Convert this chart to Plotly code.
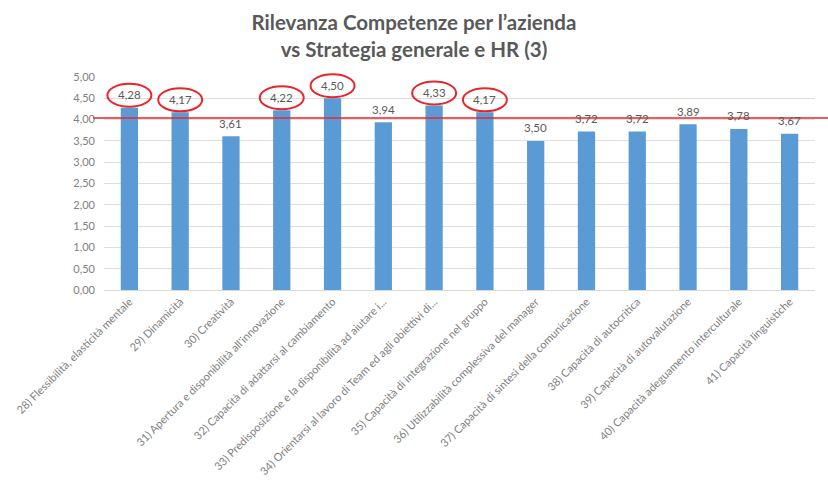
import plotly.graph_objects as go

categories = [
    "28) Flessibilità, elasticità mentale",
    "29) Dinamicità",
    "30) Creatività",
    "31) Apertura e disponibilità all'innovazione",
    "32) Capacità di adattarsi al cambiamento",
    "33) Predisposizione e la disponibilità ad aiutare i...",
    "34) Orientarsi al lavoro di Team ed agli obiettivi di...",
    "35) Capacità di integrazione nel gruppo",
    "36) Utilizzabilità complessiva del manager",
    "37) Capacità di sintesi della comunicazione",
    "38) Capacità di autocritica",
    "39) Capacità di autovalutazione",
    "40) Capacità adeguamento interculturale",
    "41) Capacità linguistiche",
]
values = [4.28, 4.17, 3.61, 4.22, 4.50, 3.94, 4.33, 4.17, 3.50, 3.72, 3.72, 3.89, 3.78, 3.67]
threshold = 4.04
y_ticks = [0, 0.5, 1, 1.5, 2, 2.5, 3, 3.5, 4, 4.5, 5]
y_max = 5

FONT = "Lato"

fig = go.Figure()
fig.add_trace(go.Bar(
    x=categories, y=values,
    marker=dict(color="#5b9bd5", line=dict(width=0)),
    width=0.34,
    cliponaxis=False,
))

annotations = []
for c, v in zip(categories, values):
    annotations.append(dict(x=c, y=v, xref="x", yref="y", text=f"{v:.2f}".replace(".", ","),
                            showarrow=False, yanchor="middle", yshift=13,
                            font=dict(size=11.5, color="#595959", family=FONT)))

shapes = []
# red reference line
shapes.append(dict(type="line", xref="paper", yref="y", x0=-0.0155, x1=1.02,
                   y0=threshold, y1=threshold, line=dict(color="#e8262a", width=1.5)))
# ellipses around labels above threshold
for i, v in enumerate(values):
    if v > threshold:
        shapes.append(dict(type="circle", xref="x", yref="paper",
                           xsizemode="pixel", ysizemode="pixel",
                           xanchor=i, yanchor=v / y_max,
                           x0=-22, x1=22, y0=1, y1=24,
                           line=dict(color="#e8262a", width=2)))

fig.update_layout(
    width=828, height=481,
    margin=dict(l=104, r=13, t=77, b=191),
    paper_bgcolor="white", plot_bgcolor="white",
    separators=",.",
    showlegend=False,
    font=dict(family=FONT, color="#808080"),
    title=dict(text="Rilevanza Competenze per l’azienda<br>vs Strategia generale e HR (3)",
               x=0.5, xanchor="center", y=0.9375, yanchor="middle",
               font=dict(size=20.5, color="#595959", family=FONT, weight="bold")),
    shapes=shapes,
    annotations=annotations,
)
fig.update_xaxes(tickangle=-45, tickfont=dict(size=11, color="#808080", family=FONT),
                 showline=True, linecolor="#d9d9d9", linewidth=1, ticks="",
                 showgrid=False, automargin=False)
fig.update_yaxes(range=[0, y_max], tickvals=y_ticks, tickformat=".2f",
                 tickfont=dict(size=11, color="#808080", family=FONT),
                 showgrid=True, gridcolor="#dedede", gridwidth=1,
                 zeroline=False, showline=False, ticklabelstandoff=8, automargin=False)

fig.write_html("out.html", config={"displayModeBar": False},
               post_script="document.body.style.margin='0';")
